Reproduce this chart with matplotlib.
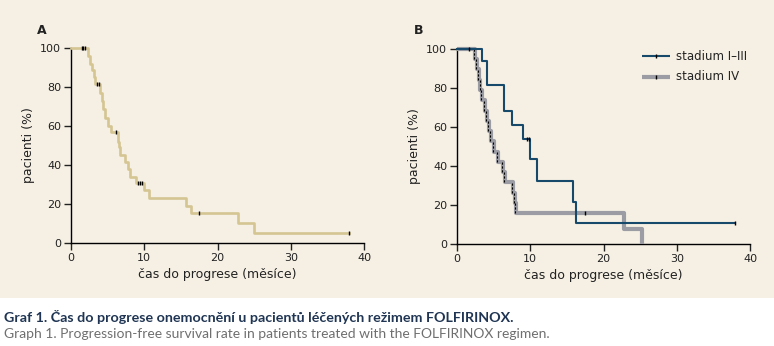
import matplotlib
matplotlib.use("Agg")
import matplotlib.pyplot as plt
from matplotlib.patches import Rectangle

# ---------------- data ----------------
# Panel A: all patients (step-post: survival after each event time)
a_times = [0, 2.3, 2.6, 2.9, 3.1, 3.3, 4.0, 4.2, 4.4, 4.6, 5.1, 5.4, 6.4, 6.55, 6.7,
           7.4, 7.8, 8.0, 8.9, 10.0, 10.7, 15.7, 16.4, 22.8, 25.0, 38.0]
a_surv = [100, 96, 92, 88.5, 85, 81.5, 77, 73, 68.5, 64, 60, 57, 52, 49, 45,
          41.5, 38, 34, 30.6, 27.2, 23.2, 19.1, 15.6, 10.4, 5.2, 5.2]
a_cens_t = [1.45, 1.7, 1.95, 3.5, 3.8, 6.2, 9.2, 9.45, 9.7, 17.5, 38.0]
a_cens_s = [100, 100, 100, 81.5, 81.5, 57, 30.6, 30.6, 30.6, 15.6, 5.2]

# Panel B: stadium I–III
b1_times = [0, 3.4, 4.1, 6.4, 7.5, 9.0, 10.0, 10.9, 15.8, 16.3, 38.0]
b1_surv = [100, 93.8, 81.3, 68, 61, 54, 43.4, 32.5, 21.7, 10.9, 10.9]
b1_cens_t = [9.6, 9.85, 38.0]
b1_cens_s = [54, 54, 10.9]

# Panel B: stadium IV
b2_times = [0, 2.4, 2.7, 3.0, 3.2, 3.4, 3.8, 4.1, 4.4, 4.6, 5.1, 5.6, 6.3, 6.55,
            7.6, 7.9, 8.1, 22.8, 25.2]
b2_surv = [100, 94.7, 89.5, 84.2, 78.9, 73.7, 68.4, 63.2, 57.9, 52.6, 47.4, 42.1,
           36.8, 31.6, 26.3, 21.0, 15.8, 7.9, 0]
b2_cens_t = [1.7, 17.5]
b2_cens_s = [100, 15.8]

x_ticks = [0, 10, 20, 30, 40]
y_ticks = [0, 20, 40, 60, 80, 100]
legend_labels = ["stadium I–III", "stadium IV"]
xlabel = "čas do progrese (měsíce)"
ylabel = "pacienti (%)"
caption1 = "Graf 1. Čas do progrese onemocnění u pacientů léčených režimem FOLFIRINOX."
caption2 = "Graph 1. Progression-free survival rate in patients treated with the FOLFIRINOX regimen."

# ---------------- style ----------------
BG = "#f6f0e4"
TAN = "#d5c593"
BLUE = "#17496b"
GRAY = "#9b9ca4"
TXT = "#222222"

W, H = 774, 346
fig = plt.figure(figsize=(W / 100, H / 100), dpi=100)
fig.patch.set_facecolor("white")
fig.patches.append(Rectangle((0, 1 - 298 / H), 1, 298 / H, transform=fig.transFigure,
                             facecolor=BG, edgecolor="none", zorder=-10))


def setup(ax):
    ax.set_facecolor("none")
    ax.set_xlim(0, 40)
    ax.set_ylim(0, 100)
    ax.set_xticks(x_ticks)
    ax.set_yticks(y_ticks)
    for s in ("top", "right"):
        ax.spines[s].set_visible(False)
    for s in ("left", "bottom"):
        ax.spines[s].set_linewidth(1.0)
        ax.spines[s].set_color("black")
    ax.tick_params(direction="out", length=5, width=1.0, labelsize=8, colors=TXT, pad=2)
    ax.set_xlabel(xlabel, fontsize=9, color=TXT, labelpad=4)
    ax.set_ylabel(ylabel, fontsize=9, color=TXT, labelpad=4)


axA = fig.add_axes([71 / W, 1 - 243 / H, 293 / W, 195 / H])
axB = fig.add_axes([457 / W, 1 - 244 / H, 293 / W, 195 / H])
for ax in (axA, axB):
    setup(ax)

cens_kw = dict(marker="|", color="black", linestyle="none", markersize=3.2,
               markeredgewidth=1.0, zorder=5, clip_on=False)

# Panel A
axA.step(a_times, a_surv, where="post", color=TAN, lw=1.9, clip_on=False, zorder=3)
axA.plot(a_cens_t, a_cens_s, **cens_kw)

# Panel B
axB.step(b2_times, b2_surv, where="post", color=GRAY, lw=3.0, clip_on=False, zorder=3,
         solid_capstyle="butt")
for i in range(1, len(b2_times)):
    if b2_times[i] < 9:
        axB.vlines(b2_times[i] - 0.12, b2_surv[i], b2_surv[i - 1], colors="black",
                   linewidth=0.8, linestyles=(0, (2, 1.5)), zorder=4)
axB.plot(b2_cens_t, b2_cens_s, **cens_kw)
axB.step(b1_times, b1_surv, where="post", color=BLUE, lw=1.5, clip_on=False, zorder=4)
axB.plot(b1_cens_t, b1_cens_s, **cens_kw)

# Legend (manual)
for k, (lab, col, lw) in enumerate(zip(legend_labels, [BLUE, GRAY], [1.5, 3.0])):
    yy = 56 + 21 * k
    fig.add_artist(plt.Line2D([642 / W, 670 / W], [1 - yy / H, 1 - yy / H], color=col, lw=lw,
                              solid_capstyle="butt"))
    fig.add_artist(plt.Line2D([656 / W], [1 - yy / H], marker="|", color="black",
                              markersize=3.2, markeredgewidth=1.0, linestyle="none"))
    fig.text(676 / W, 1 - yy / H, lab, fontsize=8.5, color=TXT, va="center", ha="left")

fig.text(37 / W, 1 - 30 / H, "A", fontsize=9, fontweight="bold", color=TXT, va="center")
fig.text(414 / W, 1 - 30 / H, "B", fontsize=9, fontweight="bold", color=TXT, va="center")

# Captions
fam = ["Lato", "DejaVu Sans"]
t1 = fig.text(4 / W, 1 - 317 / H, caption1, fontsize=10, fontweight="bold", color="#1f3553",
              va="center", ha="left", family=fam)
t2 = fig.text(4 / W, 1 - 334 / H, caption2, fontsize=10, color="#6f6f6f",
              va="center", ha="left", family=fam)
fig.canvas.draw()
r = fig.canvas.get_renderer()
for t, target in ((t1, 511), (t2, 544)):
    w = t.get_window_extent(r).width
    t.set_fontsize(t.get_fontsize() * target / w)

fig.savefig("out.png", dpi=100, facecolor=fig.get_facecolor())
